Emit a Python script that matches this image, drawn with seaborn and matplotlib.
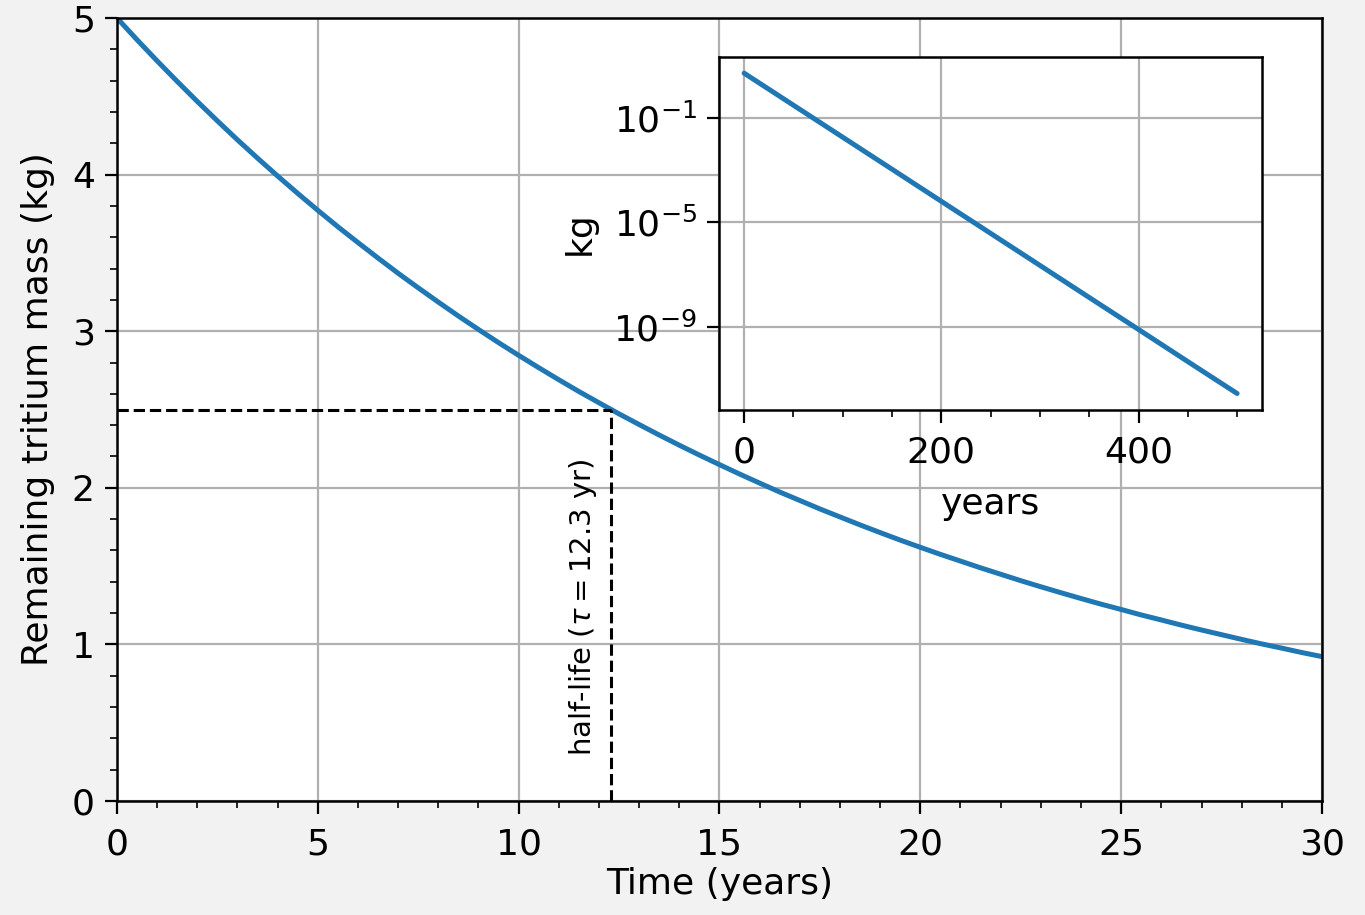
import numpy as np
import pandas as pd
import matplotlib
matplotlib.use("Agg")
import matplotlib.pyplot as plt
import seaborn as sns
from matplotlib.ticker import MultipleLocator, NullLocator, FixedLocator

# data (every half year)
years = [i * 0.5 for i in range(61)]
mass_kg = [5.000, 4.861, 4.726, 4.595, 4.467, 4.343, 4.222, 4.105, 3.991, 3.880,
           3.772, 3.667, 3.566, 3.467, 3.370, 3.277, 3.186, 3.097, 3.011, 2.927,
           2.846, 2.767, 2.690, 2.615, 2.543, 2.472, 2.404, 2.337, 2.272, 2.209,
           2.148, 2.088, 2.030, 1.973, 1.919, 1.865, 1.814, 1.763, 1.714, 1.666,
           1.620, 1.575, 1.532, 1.489, 1.448, 1.407, 1.368, 1.330, 1.293, 1.257,
           1.223, 1.188, 1.156, 1.123, 1.092, 1.062, 1.032, 1.003, 0.976, 0.948,
           0.922]
long_years = [0, 50, 100, 150, 200, 250, 300, 350, 400, 450, 500]
long_mass_kg = [5.0, 2.99e-1, 1.79e-2, 1.07e-3, 6.37e-5, 3.8e-6,
                2.27e-7, 1.35e-8, 8.1e-10, 4.8e-11, 2.9e-12]
inset_xticks = [0, 200, 400]
inset_yticks = [1e-1, 1e-5, 1e-9]
half_life = 12.3
half_mass = 2.5

df = pd.DataFrame({"t": years, "m": mass_kg})
df_long = pd.DataFrame({"t": long_years, "m": long_mass_kg})

sns.set_style("ticks")
plt.rcParams["font.family"] = ["DejaVu Sans"]
plt.rcParams["font.size"] = 13
plt.rcParams["xtick.major.size"] = 4.5
plt.rcParams["ytick.major.size"] = 4.5
plt.rcParams["xtick.minor.size"] = 2.5
plt.rcParams["ytick.minor.size"] = 2.5
plt.rcParams["xtick.major.pad"] = 5.0
plt.rcParams["axes.edgecolor"] = "black"
plt.rcParams["axes.labelcolor"] = "black"
plt.rcParams["text.color"] = "black"
plt.rcParams["xtick.color"] = "black"
plt.rcParams["ytick.color"] = "black"

fig = plt.figure(figsize=(6.825, 4.575), dpi=200, facecolor="#f2f2f2")
ax = fig.add_axes([0.0857, 0.1246, 0.8828, 0.8557])
ax.set_facecolor("white")

sns.lineplot(data=df, x="t", y="m", ax=ax, color="#1f77b4", lw=1.8)
ax.plot([0, half_life], [half_mass, half_mass], ls="--", color="black", lw=1.1)
ax.plot([half_life, half_life], [0, half_mass], ls="--", color="black", lw=1.1)
ax.text(half_life - 0.3, 1.24, r"half-life ($\tau = 12.3$ yr)", rotation=90,
        ha="right", va="center", fontsize=10.5)

ax.set_xlim(0, 30)
ax.set_ylim(0, 5)
ax.xaxis.set_major_locator(MultipleLocator(5))
ax.xaxis.set_minor_locator(MultipleLocator(1))
ax.yaxis.set_major_locator(MultipleLocator(1))
ax.yaxis.set_minor_locator(MultipleLocator(0.2))
ax.grid(True, which="major", color="#b0b0b0", lw=0.8)
ax.set_xlabel("Time (years)", labelpad=2)
ax.set_ylabel("Remaining tritium mass (kg)", labelpad=6)
for s in ax.spines.values():
    s.set_color("black")
    s.set_linewidth(0.9)

# inset with log scale
ins = ax.inset_axes([0.5, 0.5, 0.45, 0.45])
ins.set_facecolor("white")
sns.lineplot(data=df_long, x="t", y="m", ax=ins, color="#1f77b4", lw=1.8)
ins.set_yscale("log")
ins.yaxis.set_major_locator(FixedLocator(inset_yticks))
ins.yaxis.set_minor_locator(NullLocator())
ins.xaxis.set_major_locator(FixedLocator(inset_xticks))
ins.xaxis.set_minor_locator(MultipleLocator(50))
ins.grid(True, which="major", color="#b0b0b0", lw=0.8)
ins.set_xlabel("years", labelpad=6)
ins.set_ylabel("kg", labelpad=6)
for s in ins.spines.values():
    s.set_color("black")
    s.set_linewidth(0.9)

fig.savefig("out.png", dpi=200, facecolor=fig.get_facecolor())
